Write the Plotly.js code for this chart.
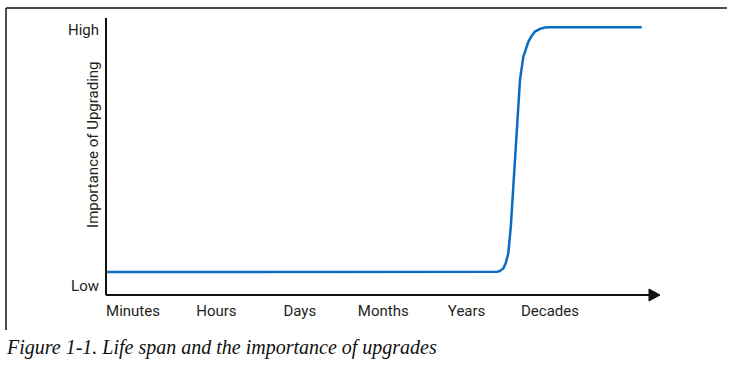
<!DOCTYPE html>
<html>
<head>
<meta charset="utf-8">
<script src="https://cdn.plot.ly/plotly-3.0.1.min.js"></script>
<style>html,body{margin:0;padding:0;background:#fff;}#chart{width:740px;height:367px;}</style>
</head>
<body>
<div id="chart"></div>
<script>
// Time-scale categories (x positions 0..5)
var categories = ["Minutes", "Hours", "Days", "Months", "Years", "Decades"];
var categoryPos = [0, 1, 2, 3, 4, 5];
// Importance levels
var levelLabels = ["Low", "High"];
var levelPos = [3.3, 95.7];
// Curve (x in category units, y in 0-100 importance)
var lifeSpan = [-0.31, 4.34, 4.37, 4.40, 4.44, 4.47, 4.50, 4.53, 4.56, 4.59, 4.61, 4.64, 4.68, 4.71, 4.74, 4.78, 4.82, 4.88, 4.94, 5.00, 6.10];
var importance = [8.3, 8.3, 8.4, 8.7, 9.6, 11.5, 15.1, 24.7, 39.1, 53.5, 66.8, 77.6, 86.0, 89.2, 91.4, 93.5, 95.1, 96.1, 96.6, 96.7, 96.7];

var labelFont = {family: "Roboto, 'Liberation Sans', sans-serif", size: 15, color: "#231f20"};

var trace = {
  x: lifeSpan,
  y: importance,
  type: "scatter",
  mode: "lines",
  line: {color: "#0a6cc0", width: 2.5, shape: "linear"},
  hoverinfo: "skip",
  showlegend: false
};

var layout = {
  width: 740,
  height: 367,
  margin: {l: 107, r: 80, t: 18, b: 72, pad: 0},
  paper_bgcolor: "#ffffff",
  plot_bgcolor: "#ffffff",
  showlegend: false,
  xaxis: {
    range: [-0.312, 6.319],
    tickvals: categoryPos,
    ticktext: categories,
    ticks: "outside",
    ticklen: 2,
    tickcolor: "rgba(0,0,0,0)",
    showgrid: false,
    zeroline: false,
    showline: false,
    tickfont: labelFont,
    fixedrange: true
  },
  yaxis: {
    range: [0, 100],
    tickvals: levelPos,
    ticktext: levelLabels,
    ticks: "outside",
    ticklen: 3,
    tickcolor: "rgba(0,0,0,0)",
    showgrid: false,
    zeroline: false,
    showline: true,
    linecolor: "#111",
    linewidth: 2,
    tickfont: labelFont,
    fixedrange: true
  },
  shapes: [
    // x axis line
    {type: "line", xref: "paper", yref: "paper", x0: -0.002, y0: 0, x1: 0.982, y1: 0, line: {color: "#111", width: 2}},
    // arrow head
    {type: "path", xref: "paper", yref: "paper", path: "M 0.9801 0.0217 L 1.0 0 L 0.9801 -0.0217 Z", fillcolor: "#111", line: {color: "#111", width: 1}},
    // frame top
    {type: "line", xref: "paper", yref: "paper", x0: -0.1826, y0: 1.0361, x1: 1.1212, y1: 1.0361, line: {color: "#111", width: 1.5}},
    // frame left
    {type: "line", xref: "paper", yref: "paper", x0: -0.1826, y0: 1.0361, x1: -0.1826, y1: -0.1264, line: {color: "#111", width: 1.5}}
  ],
  annotations: [
    {text: "Importance of Upgrading", xref: "paper", yref: "paper", x: -0.0253, y: 0.542, textangle: -90,
     showarrow: false, xanchor: "center", yanchor: "middle", font: labelFont},
    {text: "<i>Figure 1-1. Life span and the importance of upgrades</i>", xref: "paper", yref: "paper",
     x: -0.1865, y: -0.191, xanchor: "left", yanchor: "middle", showarrow: false,
     font: {family: "'Liberation Serif', 'DejaVu Serif', serif", size: 20, color: "#111"}}
  ]
};

Plotly.newPlot("chart", [trace], layout, {displayModeBar: false, staticPlot: true});
</script>
</body>
</html>
